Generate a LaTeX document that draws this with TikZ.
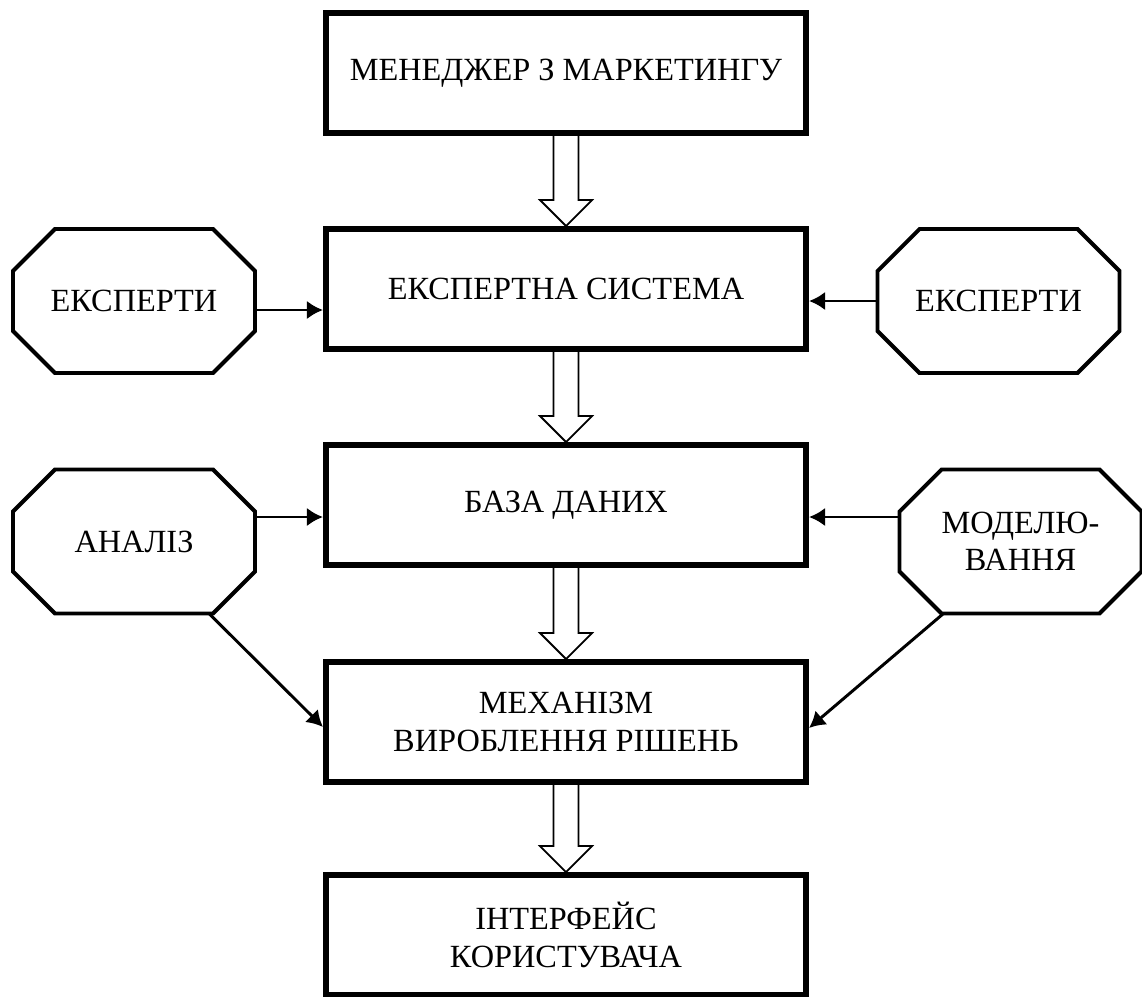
\documentclass[tikz,border=0pt]{standalone}
\usepackage{fontspec}
\setmainfont{Liberation Serif}
\usetikzlibrary{arrows.meta,calc}

% hollow block arrow between two stacked boxes
\newcommand{\hollowarrow}[2]{%
    \draw[hollow] ($(#2.north |- #1.south)+(-12.5,0)$) -- ($(#2.north)+(-12.5,-26)$)
        -- ($(#2.north)+(-26,-26)$) -- (#2.north) -- ($(#2.north)+(26,-26)$)
        -- ($(#2.north)+(12.5,-26)$) -- ($(#2.north |- #1.south)+(12.5,0)$);
}
% octagon outline round a named node
\newcommand{\octagon}[1]{%
    \draw[octline] ($(#1.north west)+(42,0)$) -- ($(#1.north east)+(-42,0)$)
        -- ($(#1.north east)+(0,42)$) -- ($(#1.south east)+(0,-42)$)
        -- ($(#1.south east)+(-42,0)$) -- ($(#1.south west)+(42,0)$)
        -- ($(#1.south west)+(0,-42)$) -- ($(#1.north west)+(0,42)$) -- cycle;
}

\begin{document}
\begin{tikzpicture}[x=0.025cm, y=-0.025cm,
        box/.style={draw, line width=4.2pt, minimum width=12cm, minimum height=3cm,
            align=center, inner sep=0pt, font=\fontsize{23}{26.5}\selectfont},
        octa/.style={rectangle, minimum width=5.95cm, minimum height=3.5cm,
            inner sep=0pt, outer sep=1.4pt, align=center,
            font=\fontsize{23}{26.5}\selectfont},
        octline/.style={line width=2.8pt, line join=miter},
        flow/.style={line width=2.1pt, -{Latex[length=0.4cm, width=0.46cm]}},
        hollow/.style={line width=1.3pt, line join=miter}]
        \useasboundingbox (0,0) rectangle (1142,996);

        % --- 1. Main column of boxes ---
        \node[box] (man) at (566, 73) {МЕНЕДЖЕР З МАРКЕТИНГУ};
        \node[box] (es)  at (566, 289) {ЕКСПЕРТНА СИСТЕМА};
        \node[box] (db)  at (566, 505) {БАЗА ДАНИХ};
        \node[box] (mec) at (566, 722) {МЕХАНІЗМ\\ВИРОБЛЕННЯ РІШЕНЬ};
        \node[box] (ui)  at (566, 935) {ІНТЕРФЕЙС\\КОРИСТУВАЧА};

        % hollow arrows down the column
        \foreach \a/\b in {man/es, es/db, db/mec, mec/ui} {
            \hollowarrow{\a}{\b}
        }

        % --- 2. Side octagons ---
        \node[octa] (ekl) at (134, 301) {ЕКСПЕРТИ};
        \node[octa] (ekr) at (998.5, 301) {ЕКСПЕРТИ};
        \node[octa] (an)  at (134, 541.5) {АНАЛІЗ};
        \node[octa] (mod) at (1020.5, 541.5) {МОДЕЛЮ-\\ВАННЯ};
        \foreach \n in {ekl, ekr, an, mod} {
            \octagon{\n}
        }

        % --- 3. Inputs into the boxes ---
        \coordinate (ekl_out) at ($(ekl.east)+(0,9)$);
        \draw[flow] (ekl_out) -- (ekl_out -| es.west);
        \draw[flow] (ekr.west) -- (ekr.west -| es.east);

        \coordinate (an_out) at ($(an.east)+(0,-24.5)$);
        \coordinate (mod_out) at ($(mod.west)+(0,-24.5)$);
        \draw[flow] (an_out) -- (an_out -| db.west);
        \draw[flow] (mod_out) -- (mod_out -| db.east);

        % diagonals into the decision box
        \draw[flow] ($(an.south)+(75,0)$) -- ($(mec.west)+(0,5)$);
        \draw[flow] ($(mod.south)+(-77,0)$) -- ($(mec.east)+(0,6)$);

    \end{tikzpicture}
\end{document}
